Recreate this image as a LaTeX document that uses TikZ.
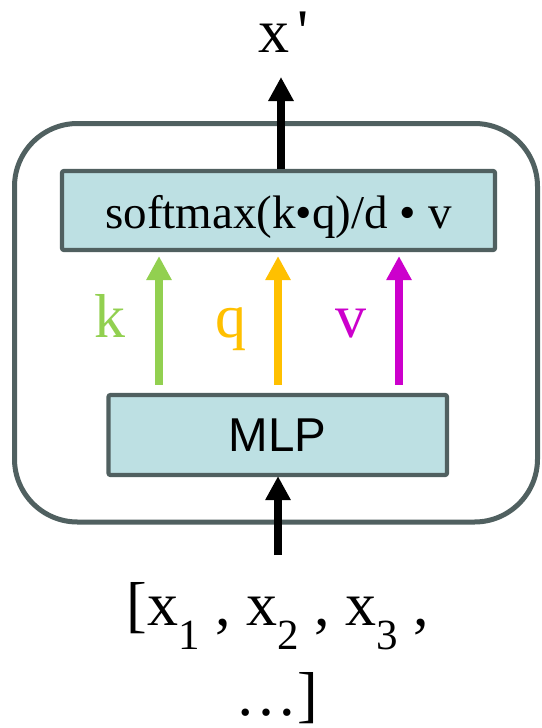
\documentclass[tikz,border=0pt]{standalone}
\usepackage{fontspec}
\setmainfont{Liberation Serif}[Ligatures=TeXOff]
\newfontfamily\mlpfont{Liberation Sans}
\usetikzlibrary{arrows.meta}

\definecolor{boxfill}{RGB}{189,224,227}
\definecolor{boxline}{RGB}{80,96,96}
\definecolor{keygreen}{RGB}{146,208,80}
\definecolor{queryamber}{RGB}{255,192,0}
\definecolor{valuemagenta}{RGB}{204,0,204}

% lowered index digit for the input tokens
\newcommand\tokidx[1]{\raisebox{-24pt}{\fontsize{43}{43}\selectfont #1}}

\begin{document}
\begin{tikzpicture}[x=1pt,y=-1pt,
  block/.style={draw=boxline, line width=5pt, fill=white, rounded corners=63pt,
    minimum width=523pt, minimum height=398.5pt, inner sep=0pt},
  stage/.style={draw=boxline, line width=4.2pt, fill=boxfill, rounded corners=2pt,
    inner sep=0pt},
  bigtext/.style={inner sep=0pt, font=\fontsize{62}{62}\selectfont},
  flow/.style={line width=#1, -{Triangle[length=24pt,width=24pt]}},
  flow/.default=8pt
]
\useasboundingbox (0,0) rectangle (541,728);

% outer frame of the attention block
\node[block] (frame) at (276,322.75) {};

% attention and MLP stages
\node[stage, minimum width=433pt, minimum height=79pt,
      text height=35pt, text depth=0pt,
      font=\fontsize{47}{47}\selectfont] (attn) at (278.5,210.5) {softmax(k•q)/d • v};
\node[stage, minimum width=338.5pt, minimum height=80pt,
      font=\mlpfont\fontsize{47.5}{47.5}\selectfont] (mlp) at (277.75,435) {MLP};

% output label and arrow
\node[bigtext, anchor=base west] (out) at (258,52) {x\kern8pt'};
\coordinate (outtip) at (281,77);
\draw[flow, black] (attn.north -| outtip) -- (outtip);

% key, query and value arrows
\coordinate (kx) at (159,0);
\coordinate (qx) at (278,0);
\coordinate (vx) at (399,0);
\draw[flow=7.5pt, keygreen]     ([yshift=8pt]mlp.north -| kx) -- ([yshift=-4pt]attn.south -| kx);
\draw[flow=7.5pt, queryamber]   ([yshift=8pt]mlp.north -| qx) -- ([yshift=-4pt]attn.south -| qx);
\draw[flow=7.5pt, valuemagenta] ([yshift=8pt]mlp.north -| vx) -- ([yshift=-4pt]attn.south -| vx);
\node[bigtext, anchor=base, text=keygreen]     (klab) at (110,337) {k};
\node[bigtext, anchor=base, text=queryamber]   (qlab) at (231,337) {q};
\node[bigtext, anchor=base, text=valuemagenta] (vlab) at (351,337) {v};

% input sequence and arrow
\node[bigtext, anchor=base] (inA) at (278,625) {[x\tokidx{1} , x\tokidx{2} , x\tokidx{3} ,};
\node[bigtext, anchor=base] (inB) at (277,715) {…]};
\coordinate (intail) at (278,555);
\draw[flow, black] (intail) -- ([yshift=1pt]mlp.south -| intail);
\end{tikzpicture}
\end{document}
